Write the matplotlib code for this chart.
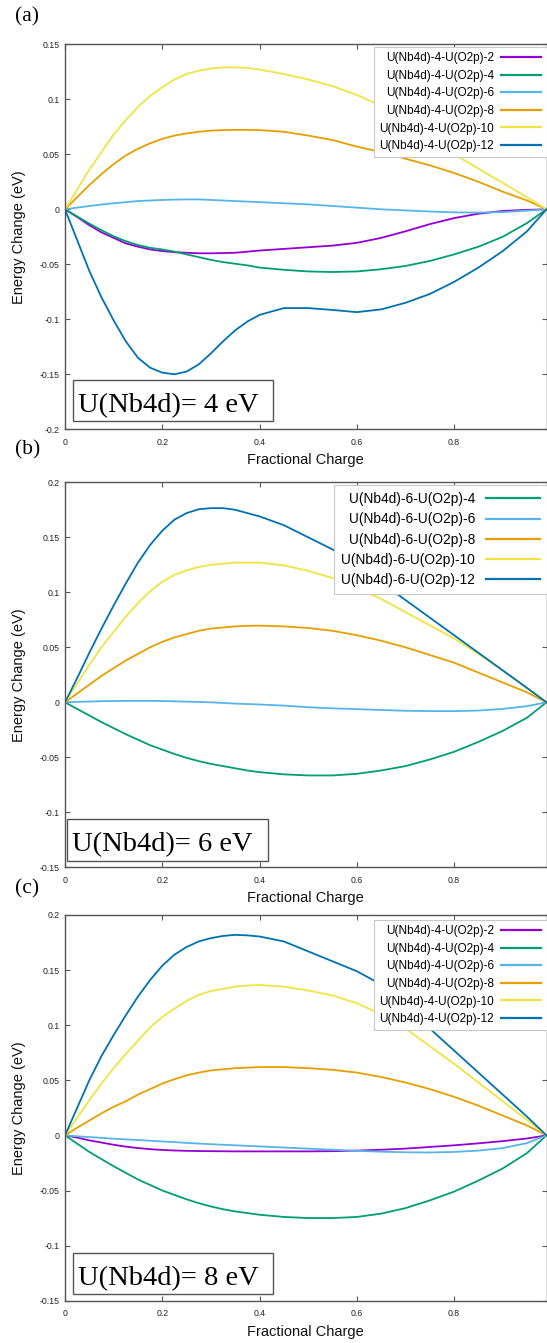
import numpy as np
import matplotlib.pyplot as plt
from matplotlib.patches import Rectangle

plt.rcParams['font.family'] = ['Liberation Sans', 'DejaVu Sans']

# fractional charge grid (shared by every curve)
charge = [0, 0.025, 0.05, 0.075, 0.10, 0.125, 0.15, 0.175, 0.20, 0.225, 0.25, 0.275, 0.30,
          0.325, 0.35, 0.375, 0.40, 0.45, 0.50, 0.55, 0.60, 0.65, 0.70, 0.75, 0.80,
          0.85, 0.90, 0.95, 0.99]

# (a) U(Nb4d) = 4 eV
a_u2 = [0, -0.007, -0.0145, -0.021, -0.026, -0.031, -0.034, -0.0365, -0.038, -0.039, -0.0395, -0.040, -0.040,
        -0.0398, -0.0395, -0.0385, -0.0375, -0.036, -0.0345, -0.033, -0.0305, -0.026, -0.020, -0.0135, -0.008,
        -0.004, -0.0015, -0.0005, 0]
a_u4 = [0, -0.0065, -0.013, -0.019, -0.0245, -0.029, -0.0325, -0.035, -0.0365, -0.0385, -0.041, -0.0435, -0.046,
        -0.048, -0.0495, -0.051, -0.053, -0.055, -0.0565, -0.057, -0.0565, -0.0545, -0.0515, -0.047, -0.041,
        -0.034, -0.025, -0.0125, 0]
a_u6 = [0, 0.0015, 0.003, 0.0043, 0.0055, 0.0065, 0.0075, 0.008, 0.0085, 0.0088, 0.009, 0.009, 0.0085,
        0.008, 0.0075, 0.007, 0.0065, 0.0055, 0.0045, 0.003, 0.0015, 0.0, -0.001, -0.002, -0.0028,
        -0.003, -0.0025, -0.0012, 0]
a_u8 = [0, 0.011, 0.022, 0.032, 0.041, 0.049, 0.055, 0.060, 0.064, 0.067, 0.069, 0.0705, 0.0715,
        0.072, 0.0722, 0.0722, 0.072, 0.0705, 0.067, 0.063, 0.057, 0.052, 0.046, 0.040, 0.033,
        0.025, 0.016, 0.008, 0]
a_u10 = [0, 0.018, 0.036, 0.052, 0.068, 0.081, 0.093, 0.103, 0.111, 0.118, 0.123, 0.126, 0.128,
         0.129, 0.129, 0.1285, 0.127, 0.123, 0.118, 0.112, 0.104, 0.094, 0.081, 0.066, 0.050,
         0.037, 0.024, 0.011, 0]
a_u12 = [0, -0.028, -0.056, -0.080, -0.101, -0.120, -0.135, -0.144, -0.1485, -0.150, -0.1475, -0.141, -0.131,
         -0.120, -0.110, -0.102, -0.096, -0.0898, -0.0898, -0.0915, -0.0935, -0.091, -0.085, -0.077, -0.066,
         -0.053, -0.038, -0.020, 0]

# (b) U(Nb4d) = 6 eV
b_u4 = [0, -0.006, -0.012, -0.018, -0.0235, -0.029, -0.034, -0.039, -0.043, -0.047, -0.0505, -0.0535, -0.056,
        -0.058, -0.060, -0.062, -0.0635, -0.0655, -0.0665, -0.0665, -0.065, -0.062, -0.058, -0.052, -0.045,
        -0.036, -0.026, -0.014, 0]
b_u6 = [0, 0.0004, 0.0007, 0.001, 0.0012, 0.0013, 0.0013, 0.0013, 0.0012, 0.0009, 0.0006, 0.0003, 0.0,
        -0.0006, -0.0012, -0.0016, -0.002, -0.003, -0.0045, -0.0055, -0.0062, -0.007, -0.0077, -0.008, -0.008,
        -0.0075, -0.006, -0.0035, 0]
b_u8 = [0, 0.008, 0.016, 0.024, 0.031, 0.038, 0.044, 0.050, 0.055, 0.059, 0.062, 0.065, 0.067,
        0.068, 0.069, 0.0695, 0.0697, 0.069, 0.0675, 0.065, 0.061, 0.056, 0.050, 0.043, 0.036,
        0.027, 0.018, 0.009, 0]
b_u10 = [0, 0.017, 0.034, 0.050, 0.064, 0.078, 0.090, 0.101, 0.1095, 0.116, 0.120, 0.123, 0.125,
         0.126, 0.127, 0.127, 0.127, 0.1245, 0.1195, 0.113, 0.104, 0.094, 0.082, 0.070, 0.058,
         0.044, 0.029, 0.013, 0]
b_u12 = [0, 0.022, 0.045, 0.067, 0.088, 0.108, 0.127, 0.143, 0.156, 0.166, 0.172, 0.1755, 0.1765,
         0.1765, 0.175, 0.172, 0.169, 0.161, 0.150, 0.139, 0.125, 0.109, 0.093, 0.077, 0.061,
         0.045, 0.029, 0.013, 0]

# (c) U(Nb4d) = 8 eV
c_u2 = [0, -0.002, -0.0045, -0.0065, -0.0085, -0.0102, -0.0115, -0.0125, -0.0132, -0.0137, -0.014, -0.0142, -0.0143,
        -0.0144, -0.0145, -0.0145, -0.0145, -0.0145, -0.0145, -0.0143, -0.0138, -0.013, -0.012, -0.0105, -0.009,
        -0.0072, -0.0052, -0.0028, 0]
c_u4 = [0, -0.0075, -0.015, -0.0215, -0.028, -0.034, -0.040, -0.045, -0.050, -0.054, -0.058, -0.0615, -0.0645,
        -0.067, -0.069, -0.0705, -0.072, -0.074, -0.075, -0.075, -0.074, -0.071, -0.066, -0.059, -0.051,
        -0.041, -0.030, -0.016, 0]
c_u6 = [0, -0.0008, -0.0015, -0.0022, -0.003, -0.0036, -0.0042, -0.0048, -0.0055, -0.0061, -0.0068, -0.0074, -0.008,
        -0.0085, -0.009, -0.0095, -0.010, -0.011, -0.012, -0.013, -0.014, -0.0148, -0.0153, -0.0155, -0.015,
        -0.0138, -0.0115, -0.007, 0]
c_u8 = [0, 0.007, 0.0135, 0.020, 0.026, 0.031, 0.037, 0.042, 0.047, 0.051, 0.0545, 0.057, 0.059,
        0.060, 0.061, 0.0615, 0.062, 0.062, 0.061, 0.0595, 0.057, 0.053, 0.048, 0.042, 0.035,
        0.027, 0.018, 0.009, 0]
c_u10 = [0, 0.016, 0.032, 0.047, 0.061, 0.074, 0.086, 0.098, 0.1075, 0.115, 0.122, 0.1275, 0.131,
         0.133, 0.135, 0.136, 0.1365, 0.135, 0.1315, 0.127, 0.120, 0.110, 0.097, 0.081, 0.065,
         0.048, 0.031, 0.014, 0]
c_u12 = [0, 0.025, 0.050, 0.072, 0.091, 0.109, 0.126, 0.141, 0.154, 0.164, 0.171, 0.176, 0.179,
         0.181, 0.182, 0.1815, 0.1805, 0.176, 0.167, 0.158, 0.149, 0.137, 0.117, 0.097, 0.077,
         0.057, 0.037, 0.017, 0]

labels_a = ['U(Nb4d)-4-U(O2p)-2', 'U(Nb4d)-4-U(O2p)-4', 'U(Nb4d)-4-U(O2p)-6',
            'U(Nb4d)-4-U(O2p)-8', 'U(Nb4d)-4-U(O2p)-10', 'U(Nb4d)-4-U(O2p)-12']
labels_b = ['U(Nb4d)-6-U(O2p)-4', 'U(Nb4d)-6-U(O2p)-6', 'U(Nb4d)-6-U(O2p)-8',
            'U(Nb4d)-6-U(O2p)-10', 'U(Nb4d)-6-U(O2p)-12']
labels_c = labels_a  # the original figure reuses the "-4-" labels

yticks_a = [-0.2, -0.15, -0.1, -0.05, 0, 0.05, 0.1, 0.15]
yticks_bc = [-0.15, -0.1, -0.05, 0, 0.05, 0.1, 0.15, 0.2]
xticks = [0, 0.2, 0.4, 0.6, 0.8]

# gnuplot default line colours
purple, green, lblue, orange, yellow, blue = '#9400d3', '#009e73', '#56b4e9', '#e69f00', '#f0e442', '#0072b2'

W, H = 547, 1343
fig = plt.figure(figsize=(W / 100, H / 100), dpi=100)


def fmt(v):
    return '%g' % (round(v, 3) + 0.0)


def panel(top_px, bot_px, curves, colors, labels, ylim, yticks, box, txt, leg):
    ax = fig.add_axes([65 / W, 1 - bot_px / H, (546.5 - 65) / W, (bot_px - top_px) / H])
    for y, c, lab in zip(curves, colors, labels):
        ax.plot(charge, y, color=c, lw=1.3, label=lab)
    ax.set_xlim(0, 0.99)
    ax.set_ylim(*ylim)
    ax.set_xticks(xticks)
    ax.set_xticklabels([fmt(v) for v in xticks])
    ax.set_yticks(yticks)
    ax.set_yticklabels([fmt(v) for v in yticks])
    ax.tick_params(direction='in', top=True, right=True, length=3.5, width=0.8,
                   color='#555555', labelsize=6.3, labelcolor='#222222')
    ax.tick_params(axis='x', pad=6)
    ax.tick_params(axis='y', pad=4)
    for s in ax.spines.values():
        s.set_color('#555555')
        s.set_linewidth(1.0)
    ax.set_ylabel('Energy Change (eV)', fontsize=10.5, color='#111111')
    ax.yaxis.set_label_coords(-0.081, 0.5)
    ax.set_xlabel('Fractional Charge', fontsize=10.5, color='#111111', va='top')
    ax.xaxis.set_label_coords(0.5, -0.062)

    x0, y0, x1, y1 = box
    ax.add_patch(Rectangle((x0, y0), x1 - x0, y1 - y0, transform=ax.transAxes,
                           fill=True, facecolor='white', edgecolor='#555555', lw=1.0, zorder=5))
    ax.text(txt[0], txt[1], txt[2], transform=ax.transAxes, ha='left', va='baseline',
            fontsize=20.5, family='Liberation Serif', zorder=6)

    fs, top_frac, spacing, hlen, pad, bpad = leg
    lg = ax.legend(loc='upper right', bbox_to_anchor=(1.0, top_frac), borderaxespad=0,
                   markerfirst=False, fontsize=fs, handlelength=hlen, handletextpad=pad,
                   labelspacing=spacing, borderpad=bpad, fancybox=False, framealpha=1,
                   edgecolor='#c8c8c8')
    lg.get_frame().set_linewidth(0.8)
    for ln in lg.get_lines():
        ln.set_linewidth(1.6)
    return ax


panel(44.3, 429.3, [a_u2, a_u4, a_u6, a_u8, a_u10, a_u12],
      [purple, green, lblue, orange, yellow, blue], labels_a,
      (-0.2, 0.15), yticks_a, (0.0166, 0.0216, 0.432, 0.128), (0.0266, 0.0457, 'U(Nb4d)= 4 eV'),
      (8.5, 0.993, 0.47, 3.4, 0.6, 0.45))

panel(482.3, 867.3, [b_u4, b_u6, b_u8, b_u10, b_u12],
      [green, lblue, orange, yellow, blue], labels_b,
      (-0.15, 0.2), yticks_bc, (0.0035, 0.0164, 0.421, 0.125), (0.0143, 0.043, 'U(Nb4d)= 6 eV'),
      (9.9, 0.992, 0.45, 3.9, 0.8, 0.5))

panel(915, 1300.7, [c_u2, c_u4, c_u6, c_u8, c_u10, c_u12],
      [purple, green, lblue, orange, yellow, blue], labels_c,
      (-0.15, 0.2), yticks_bc, (0.0158, 0.0174, 0.4318, 0.1237), (0.0266, 0.0407, 'U(Nb4d)= 8 eV'),
      (8.5, 0.987, 0.47, 3.4, 0.6, 0.45))

for lab, ypx in [('(a)', 17), ('(b)', 450), ('(c)', 889)]:
    fig.text(15 / W, 1 - ypx / H, lab, fontsize=15.5, family='Liberation Serif',
             ha='left', va='center')

fig.savefig('out.png', dpi=100)
